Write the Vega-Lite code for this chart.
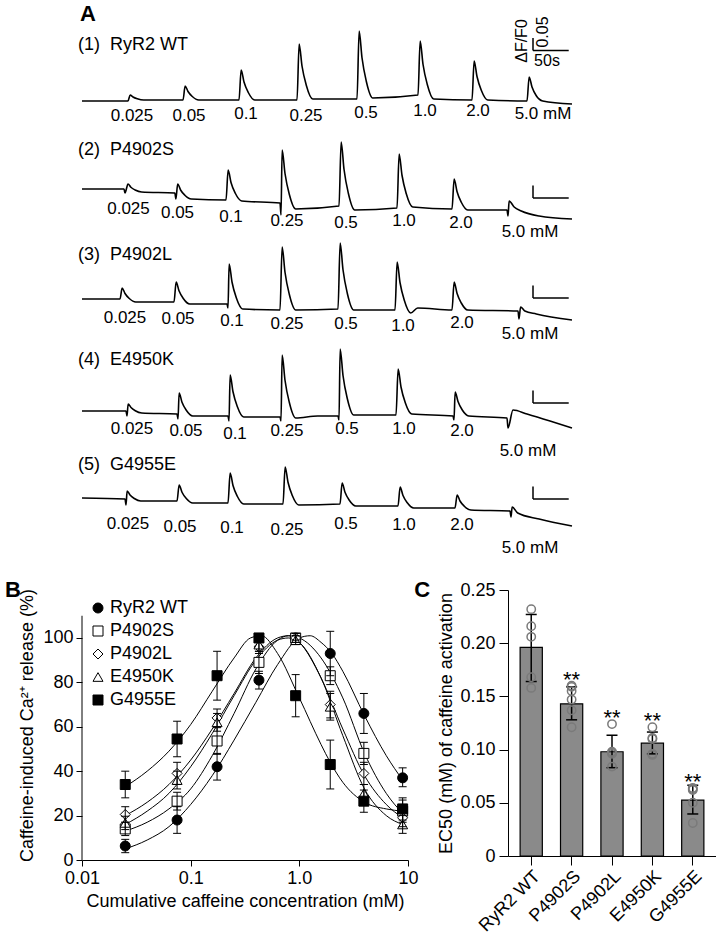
{
"$schema":"https://vega.github.io/schema/vega-lite/v6.json",
"padding":{"left":5,"top":2,"right":0,"bottom":0},
"background":"white",
"config":{"font":"Liberation Sans","view":{"stroke":null},
 "axis":{"domainColor":"black","tickColor":"black","labelColor":"black","titleColor":"black","labelFontSize":18,"titleFontSize":18,"titleFontWeight":"normal","grid":false,"labelFont":"Liberation Sans","titleFont":"Liberation Sans"},
 "text":{"font":"Liberation Sans","color":"black"}},
"datasets":{
"trace":[
{"r":1,"t":0,"v":-0.018},{"r":1,"t":64.4,"v":-0.018},{"r":1,"t":67.4,"v":0.006},{"r":1,"t":71.4,"v":-0.002},{"r":1,"t":77.4,"v":-0.009},{"r":1,"t":86.4,"v":-0.014},
{"r":1,"t":141.4,"v":-0.014},{"r":1,"t":144.4,"v":0.042},{"r":1,"t":148.4,"v":0.02},{"r":1,"t":154.4,"v":0},{"r":1,"t":163.4,"v":-0.014},
{"r":1,"t":219.8,"v":-0.014},{"r":1,"t":222.8,"v":0.106},{"r":1,"t":226.8,"v":0.058},{"r":1,"t":232.8,"v":0.016},{"r":1,"t":241.8,"v":-0.014},
{"r":1,"t":301,"v":-0.014},{"r":1,"t":304,"v":0.21},{"r":1,"t":308,"v":0.122},{"r":1,"t":314,"v":0.045},{"r":1,"t":323,"v":-0.01},
{"r":1,"t":385,"v":-0.01},{"r":1,"t":388,"v":0.262},{"r":1,"t":392,"v":0.155},{"r":1,"t":398,"v":0.061},{"r":1,"t":407,"v":-0.006},
{"r":1,"t":470.4,"v":0.006},{"r":1,"t":473.4,"v":0.222},{"r":1,"t":477.4,"v":0.129},{"r":1,"t":483.4,"v":0.048},{"r":1,"t":492.4,"v":-0.01},
{"r":1,"t":546,"v":-0.014},{"r":1,"t":549,"v":0.142},{"r":1,"t":553,"v":0.08},{"r":1,"t":559,"v":0.025},{"r":1,"t":568,"v":-0.014},
{"r":1,"t":623,"v":-0.018},{"r":1,"t":626,"v":0.078},{"r":1,"t":630,"v":0.038},{"r":1,"t":636,"v":0.003},{"r":1,"t":645,"v":-0.018},{"r":1,"t":686,"v":-0.03},
{"r":2,"t":0,"v":0.05},{"r":2,"t":58.8,"v":0.05},{"r":2,"t":60.2,"v":0.034},{"r":2,"t":64.4,"v":0.07},{"r":2,"t":68.4,"v":0.057},{"r":2,"t":74.4,"v":0.046},{"r":2,"t":83.4,"v":0.038},
{"r":2,"t":130,"v":0.034},{"r":2,"t":131.4,"v":0.01},{"r":2,"t":134,"v":0.07},{"r":2,"t":138,"v":0.046},{"r":2,"t":144,"v":0.025},{"r":2,"t":153,"v":0.01},
{"r":2,"t":201.6,"v":0.006},{"r":2,"t":204.6,"v":0.126},{"r":2,"t":208.6,"v":0.076},{"r":2,"t":214.6,"v":0.033},{"r":2,"t":223.6,"v":0.002},
{"r":2,"t":277.2,"v":-0.006},{"r":2,"t":278.6,"v":-0.054},{"r":2,"t":280.2,"v":0.206},{"r":2,"t":284.2,"v":0.112},{"r":2,"t":290.2,"v":0.029},{"r":2,"t":299.2,"v":-0.03},
{"r":2,"t":359.8,"v":-0.018},{"r":2,"t":362.8,"v":0.238},{"r":2,"t":366.8,"v":0.129},{"r":2,"t":372.8,"v":0.034},{"r":2,"t":381.8,"v":-0.034},
{"r":2,"t":441,"v":-0.026},{"r":2,"t":444,"v":0.19},{"r":2,"t":448,"v":0.105},{"r":2,"t":454,"v":0.031},{"r":2,"t":463,"v":-0.022},
{"r":2,"t":518,"v":-0.03},{"r":2,"t":521,"v":0.09},{"r":2,"t":525,"v":0.04},{"r":2,"t":531,"v":-0.003},{"r":2,"t":540,"v":-0.034},
{"r":2,"t":595,"v":-0.034},{"r":2,"t":596.4,"v":-0.058},{"r":2,"t":598,"v":0.002},{"r":2,"t":605,"v":-0.022},{"r":2,"t":615,"v":-0.038},{"r":2,"t":640,"v":-0.058},{"r":2,"t":686,"v":-0.07},
{"r":3,"t":0,"v":0.03},{"r":3,"t":53.2,"v":0.03},{"r":3,"t":56.2,"v":0.074},{"r":3,"t":60.2,"v":0.052},{"r":3,"t":66.2,"v":0.032},{"r":3,"t":75.2,"v":0.018},
{"r":3,"t":128.8,"v":0.018},{"r":3,"t":131.8,"v":0.098},{"r":3,"t":135.8,"v":0.063},{"r":3,"t":141.8,"v":0.032},{"r":3,"t":150.8,"v":0.01},
{"r":3,"t":203,"v":0.01},{"r":3,"t":204.4,"v":-0.006},{"r":3,"t":206,"v":0.17},{"r":3,"t":210,"v":0.098},{"r":3,"t":216,"v":0.035},{"r":3,"t":225,"v":-0.01},
{"r":3,"t":277.2,"v":-0.014},{"r":3,"t":280.2,"v":0.238},{"r":3,"t":284.2,"v":0.137},{"r":3,"t":290.2,"v":0.049},{"r":3,"t":299.2,"v":-0.014},
{"r":3,"t":358.4,"v":-0.01},{"r":3,"t":361.4,"v":0.254},{"r":3,"t":365.4,"v":0.147},{"r":3,"t":371.4,"v":0.053},{"r":3,"t":380.4,"v":-0.014},
{"r":3,"t":438.2,"v":-0.014},{"r":3,"t":441.2,"v":0.178},{"r":3,"t":445.2,"v":0.096},{"r":3,"t":451.2,"v":0.025},{"r":3,"t":460.2,"v":-0.026},{"r":3,"t":470,"v":-0.006},
{"r":3,"t":518,"v":-0.014},{"r":3,"t":521,"v":0.098},{"r":3,"t":525,"v":0.053},{"r":3,"t":531,"v":0.014},{"r":3,"t":540,"v":-0.014},
{"r":3,"t":610.4,"v":-0.018},{"r":3,"t":611.8,"v":-0.05},{"r":3,"t":614,"v":-0.002},{"r":3,"t":620,"v":-0.018},{"r":3,"t":636,"v":-0.03},{"r":3,"t":686,"v":-0.054},
{"r":4,"t":0,"v":0.002},{"r":4,"t":61.6,"v":0.002},{"r":4,"t":63,"v":-0.018},{"r":4,"t":64.6,"v":0.03},{"r":4,"t":68.6,"v":0.016},{"r":4,"t":74.6,"v":0.003},{"r":4,"t":83.6,"v":-0.006},
{"r":4,"t":133,"v":-0.01},{"r":4,"t":134.4,"v":-0.03},{"r":4,"t":136,"v":0.074},{"r":4,"t":140,"v":0.037},{"r":4,"t":146,"v":0.005},{"r":4,"t":155,"v":-0.018},
{"r":4,"t":204.4,"v":-0.018},{"r":4,"t":205.8,"v":-0.038},{"r":4,"t":207.4,"v":0.146},{"r":4,"t":211.4,"v":0.079},{"r":4,"t":217.4,"v":0.02},{"r":4,"t":226.4,"v":-0.022},
{"r":4,"t":277.2,"v":-0.022},{"r":4,"t":278.6,"v":-0.038},{"r":4,"t":280.2,"v":0.226},{"r":4,"t":284.2,"v":0.125},{"r":4,"t":290.2,"v":0.037},{"r":4,"t":299.2,"v":-0.026},{"r":4,"t":330,"v":-0.018},
{"r":4,"t":358.4,"v":-0.018},{"r":4,"t":359.8,"v":-0.034},{"r":4,"t":361.4,"v":0.25},{"r":4,"t":365.4,"v":0.144},{"r":4,"t":371.4,"v":0.052},{"r":4,"t":380.4,"v":-0.014},
{"r":4,"t":439.6,"v":-0.014},{"r":4,"t":442.6,"v":0.17},{"r":4,"t":446.6,"v":0.098},{"r":4,"t":452.6,"v":0.035},{"r":4,"t":461.6,"v":-0.01},
{"r":4,"t":519.4,"v":-0.018},{"r":4,"t":520.8,"v":-0.034},{"r":4,"t":522.4,"v":0.078},{"r":4,"t":526.4,"v":0.04},{"r":4,"t":532.4,"v":0.006},{"r":4,"t":541.4,"v":-0.018},
{"r":4,"t":595,"v":-0.026},{"r":4,"t":596.4,"v":-0.066},{"r":4,"t":603.4,"v":0.006},{"r":4,"t":623,"v":-0.01},{"r":4,"t":655.2,"v":-0.038},{"r":4,"t":686,"v":-0.066},
{"r":5,"t":0,"v":0.074},{"r":5,"t":60.2,"v":0.07},{"r":5,"t":61.6,"v":0.046},{"r":5,"t":63.2,"v":0.102},{"r":5,"t":67.2,"v":0.086},{"r":5,"t":73.2,"v":0.072},{"r":5,"t":82.2,"v":0.062},
{"r":5,"t":133,"v":0.062},{"r":5,"t":136,"v":0.126},{"r":5,"t":140,"v":0.097},{"r":5,"t":146,"v":0.072},{"r":5,"t":155,"v":0.054},
{"r":5,"t":204.4,"v":0.054},{"r":5,"t":207.4,"v":0.174},{"r":5,"t":211.4,"v":0.124},{"r":5,"t":217.4,"v":0.081},{"r":5,"t":226.4,"v":0.05},
{"r":5,"t":281.4,"v":0.05},{"r":5,"t":284.4,"v":0.198},{"r":5,"t":288.4,"v":0.137},{"r":5,"t":294.4,"v":0.084},{"r":5,"t":303.4,"v":0.046},
{"r":5,"t":361.2,"v":0.05},{"r":5,"t":364.2,"v":0.134},{"r":5,"t":368.2,"v":0.097},{"r":5,"t":374.2,"v":0.065},{"r":5,"t":383.2,"v":0.042},
{"r":5,"t":442.4,"v":0.042},{"r":5,"t":445.4,"v":0.118},{"r":5,"t":449.4,"v":0.084},{"r":5,"t":455.4,"v":0.055},{"r":5,"t":464.4,"v":0.034},
{"r":5,"t":522.2,"v":0.034},{"r":5,"t":525.2,"v":0.086},{"r":5,"t":529.2,"v":0.062},{"r":5,"t":535.2,"v":0.041},{"r":5,"t":544.2,"v":0.026},
{"r":5,"t":599.2,"v":0.022},{"r":5,"t":600.6,"v":-0.002},{"r":5,"t":602.2,"v":0.038},{"r":5,"t":610,"v":0.014},{"r":5,"t":640,"v":-0.01},{"r":5,"t":686,"v":-0.038}
],
"clabels":[
{"r":1,"t":70,"v":-0.078,"label":"0.025"},{"r":1,"t":149.8,"v":-0.078,"label":"0.05"},{"r":1,"t":229.6,"v":-0.07,"label":"0.1"},{"r":1,"t":313.6,"v":-0.078,"label":"0.25"},{"r":1,"t":397.6,"v":-0.066,"label":"0.5"},{"r":1,"t":480.2,"v":-0.058,"label":"1.0"},{"r":1,"t":554.4,"v":-0.058,"label":"2.0"},{"r":1,"t":645.4,"v":-0.07,"label":"5.0 mM"},
{"r":2,"t":65.1,"v":-0.03,"label":"0.025"},{"r":2,"t":133.7,"v":-0.046,"label":"0.05"},{"r":2,"t":208.6,"v":-0.062,"label":"0.1"},{"r":2,"t":287,"v":-0.078,"label":"0.25"},{"r":2,"t":369.6,"v":-0.086,"label":"0.5"},{"r":2,"t":450.8,"v":-0.078,"label":"1.0"},{"r":2,"t":530.6,"v":-0.086,"label":"2.0"},{"r":2,"t":627.2,"v":-0.122,"label":"5.0 mM"},
{"r":3,"t":60.2,"v":-0.046,"label":"0.025"},{"r":3,"t":134.4,"v":-0.05,"label":"0.05"},{"r":3,"t":210,"v":-0.058,"label":"0.1"},{"r":3,"t":287,"v":-0.07,"label":"0.25"},{"r":3,"t":369.6,"v":-0.07,"label":"0.5"},{"r":3,"t":449.4,"v":-0.078,"label":"1.0"},{"r":3,"t":532,"v":-0.066,"label":"2.0"},{"r":3,"t":627.2,"v":-0.11,"label":"5.0 mM"},
{"r":4,"t":70,"v":-0.07,"label":"0.025"},{"r":4,"t":145.6,"v":-0.078,"label":"0.05"},{"r":4,"t":214.2,"v":-0.09,"label":"0.1"},{"r":4,"t":287,"v":-0.078,"label":"0.25"},{"r":4,"t":371,"v":-0.07,"label":"0.5"},{"r":4,"t":450.8,"v":-0.07,"label":"1.0"},{"r":4,"t":532,"v":-0.078,"label":"2.0"},{"r":4,"t":624.4,"v":-0.158,"label":"5.0 mM"},
{"r":5,"t":64.4,"v":-0.03,"label":"0.025"},{"r":5,"t":137.2,"v":-0.042,"label":"0.05"},{"r":5,"t":210,"v":-0.046,"label":"0.1"},{"r":5,"t":287,"v":-0.054,"label":"0.25"},{"r":5,"t":369.6,"v":-0.03,"label":"0.5"},{"r":5,"t":450.8,"v":-0.034,"label":"1.0"},{"r":5,"t":532,"v":-0.034,"label":"2.0"},{"r":5,"t":627.2,"v":-0.126,"label":"5.0 mM"}
],
"sbar":[
{"r":1,"t":631.4,"t2":681.4,"v":0.184,"v2":0.234},
{"r":2,"t":631.4,"t2":681.4,"v":0.014,"v2":0.064},
{"r":3,"t":631.4,"t2":681.4,"v":0.034,"v2":0.084},
{"r":4,"t":631.4,"t2":681.4,"v":0.034,"v2":0.084},
{"r":5,"t":631.4,"t2":681.4,"v":0.07,"v2":0.12}
],
"names":[
{"r":1,"name":"(1)\u00a0\u00a0RyR2 WT"},{"r":2,"name":"(2)\u00a0\u00a0P4902S"},{"r":3,"name":"(3)\u00a0\u00a0P4902L"},{"r":4,"name":"(4)\u00a0\u00a0E4950K"},{"r":5,"name":"(5)\u00a0\u00a0G4955E"}
],
"curves":[
{"s":"RyR2 WT","c":0.025,"y":5},{"s":"RyR2 WT","c":0.0398,"y":9},{"s":"RyR2 WT","c":0.0631,"y":15},{"s":"RyR2 WT","c":0.1,"y":25},{"s":"RyR2 WT","c":0.158,"y":38},{"s":"RyR2 WT","c":0.251,"y":54},{"s":"RyR2 WT","c":0.398,"y":71},{"s":"RyR2 WT","c":0.631,"y":88},{"s":"RyR2 WT","c":1,"y":100},{"s":"RyR2 WT","c":1.259,"y":101},{"s":"RyR2 WT","c":1.585,"y":98},{"s":"RyR2 WT","c":1.995,"y":93},{"s":"RyR2 WT","c":2.512,"y":85},{"s":"RyR2 WT","c":3.981,"y":65},{"s":"RyR2 WT","c":6.31,"y":47},{"s":"RyR2 WT","c":8.925,"y":36},
{"s":"P4902S","c":0.025,"y":13},{"s":"P4902S","c":0.0398,"y":17},{"s":"P4902S","c":0.0631,"y":23},{"s":"P4902S","c":0.1,"y":32},{"s":"P4902S","c":0.158,"y":47},{"s":"P4902S","c":0.251,"y":66},{"s":"P4902S","c":0.398,"y":86},{"s":"P4902S","c":0.631,"y":99},{"s":"P4902S","c":0.794,"y":101},{"s":"P4902S","c":1,"y":100},{"s":"P4902S","c":1.585,"y":91},{"s":"P4902S","c":2.512,"y":73},{"s":"P4902S","c":3.981,"y":48},{"s":"P4902S","c":6.31,"y":30},{"s":"P4902S","c":8.925,"y":21},
{"s":"P4902L","c":0.025,"y":20},{"s":"P4902L","c":0.0398,"y":26},{"s":"P4902L","c":0.0631,"y":34},{"s":"P4902L","c":0.1,"y":45},{"s":"P4902L","c":0.158,"y":59},{"s":"P4902L","c":0.251,"y":75},{"s":"P4902L","c":0.398,"y":91},{"s":"P4902L","c":0.631,"y":100},{"s":"P4902L","c":0.794,"y":101},{"s":"P4902L","c":1,"y":98},{"s":"P4902L","c":1.585,"y":82},{"s":"P4902L","c":2.512,"y":59},{"s":"P4902L","c":3.981,"y":38},{"s":"P4902L","c":6.31,"y":25},{"s":"P4902L","c":8.925,"y":19},
{"s":"E4950K","c":0.025,"y":16},{"s":"E4950K","c":0.0398,"y":22},{"s":"E4950K","c":0.0631,"y":30},{"s":"E4950K","c":0.1,"y":42},{"s":"E4950K","c":0.158,"y":57},{"s":"E4950K","c":0.251,"y":74},{"s":"E4950K","c":0.398,"y":90},{"s":"E4950K","c":0.631,"y":99},{"s":"E4950K","c":0.794,"y":100},{"s":"E4950K","c":1,"y":98},{"s":"E4950K","c":1.585,"y":82},{"s":"E4950K","c":2.512,"y":56},{"s":"E4950K","c":3.981,"y":32},{"s":"E4950K","c":6.31,"y":20},{"s":"E4950K","c":8.925,"y":16},
{"s":"G4955E","c":0.025,"y":33},{"s":"G4955E","c":0.0398,"y":40},{"s":"G4955E","c":0.0631,"y":49},{"s":"G4955E","c":0.1,"y":61},{"s":"G4955E","c":0.158,"y":76},{"s":"G4955E","c":0.251,"y":91},{"s":"G4955E","c":0.355,"y":100},{"s":"G4955E","c":0.447,"y":101},{"s":"G4955E","c":0.631,"y":93},{"s":"G4955E","c":1,"y":73},{"s":"G4955E","c":1.585,"y":52},{"s":"G4955E","c":1.925,"y":44},{"s":"G4955E","c":2.512,"y":35},{"s":"G4955E","c":3.981,"y":26},{"s":"G4955E","c":6.31,"y":23},{"s":"G4955E","c":8.925,"y":22}
],
"bpts":[
{"s":"RyR2 WT","c":0.025,"m":6.3,"lo":3.3,"hi":9.3},{"s":"RyR2 WT","c":0.075,"m":18,"lo":12,"hi":24},{"s":"RyR2 WT","c":0.175,"m":42,"lo":36,"hi":48},{"s":"RyR2 WT","c":0.425,"m":81,"lo":77,"hi":85},{"s":"RyR2 WT","c":0.925,"m":100,"lo":98,"hi":102},{"s":"RyR2 WT","c":1.925,"m":93,"lo":83,"hi":103},{"s":"RyR2 WT","c":3.925,"m":66,"lo":57,"hi":75},{"s":"RyR2 WT","c":8.925,"m":37,"lo":33,"hi":41.5},
{"s":"P4902S","c":0.025,"m":14,"lo":11,"hi":17},{"s":"P4902S","c":0.075,"m":26.5,"lo":22.5,"hi":30.5},{"s":"P4902S","c":0.175,"m":53.6,"lo":47.6,"hi":59.6},{"s":"P4902S","c":0.425,"m":89,"lo":84,"hi":94},{"s":"P4902S","c":0.925,"m":100,"lo":98,"hi":102},{"s":"P4902S","c":1.925,"m":83,"lo":79,"hi":87},{"s":"P4902S","c":3.925,"m":48,"lo":43,"hi":53},{"s":"P4902S","c":8.925,"m":22,"lo":17,"hi":27},
{"s":"P4902L","c":0.025,"m":20.5,"lo":17,"hi":24},{"s":"P4902L","c":0.075,"m":39,"lo":34,"hi":44},{"s":"P4902L","c":0.175,"m":64,"lo":60,"hi":68},{"s":"P4902L","c":0.425,"m":96,"lo":93,"hi":99},{"s":"P4902L","c":0.925,"m":100,"lo":99,"hi":101},{"s":"P4902L","c":1.925,"m":70,"lo":64,"hi":76},{"s":"P4902L","c":3.925,"m":39,"lo":34,"hi":44},{"s":"P4902L","c":8.925,"m":19,"lo":15,"hi":23},
{"s":"E4950K","c":0.025,"m":16.7,"lo":13.7,"hi":19.7},{"s":"E4950K","c":0.075,"m":36,"lo":32,"hi":40},{"s":"E4950K","c":0.175,"m":62,"lo":58,"hi":66},{"s":"E4950K","c":0.425,"m":97,"lo":94,"hi":100},{"s":"E4950K","c":0.925,"m":99,"lo":97,"hi":101},{"s":"E4950K","c":1.925,"m":69,"lo":63,"hi":75},{"s":"E4950K","c":3.925,"m":30,"lo":26,"hi":34},{"s":"E4950K","c":8.925,"m":16,"lo":12,"hi":20},
{"s":"G4955E","c":0.025,"m":34,"lo":28,"hi":40},{"s":"G4955E","c":0.075,"m":54.5,"lo":46.5,"hi":62.5},{"s":"G4955E","c":0.175,"m":83,"lo":72,"hi":94},{"s":"G4955E","c":0.425,"m":100,"lo":99,"hi":101},{"s":"G4955E","c":0.925,"m":74,"lo":64.5,"hi":83.5},{"s":"G4955E","c":1.925,"m":43,"lo":32,"hi":54},{"s":"G4955E","c":3.925,"m":26.5,"lo":21.5,"hi":31.5},{"s":"G4955E","c":8.925,"m":23,"lo":18,"hi":28}
],
"ec50":[
{"g":"RyR2 WT","m":0.196,"lo":0.164,"hi":0.227},{"g":"P4902S","m":0.143,"lo":0.128,"hi":0.159},{"g":"P4902L","m":0.098,"lo":0.083,"hi":0.1135},{"g":"E4950K","m":0.106,"lo":0.096,"hi":0.1165},{"g":"G4955E","m":0.0525,"lo":0.0395,"hi":0.0665}
],
"ec50pts":[
{"g":"RyR2 WT","v":0.232},{"g":"RyR2 WT","v":0.216},{"g":"RyR2 WT","v":0.206},{"g":"RyR2 WT","v":0.168},{"g":"RyR2 WT","v":0.158},
{"g":"P4902S","v":0.16},{"g":"P4902S","v":0.159},{"g":"P4902S","v":0.155},{"g":"P4902S","v":0.147},{"g":"P4902S","v":0.137},{"g":"P4902S","v":0.121},
{"g":"P4902L","v":0.124},{"g":"P4902L","v":0.098},{"g":"P4902L","v":0.097},{"g":"P4902L","v":0.096},{"g":"P4902L","v":0.084},
{"g":"E4950K","v":0.121},{"g":"E4950K","v":0.111},{"g":"E4950K","v":0.11},{"g":"E4950K","v":0.096},{"g":"E4950K","v":0.095},
{"g":"G4955E","v":0.064},{"g":"G4955E","v":0.063},{"g":"G4955E","v":0.062},{"g":"G4955E","v":0.05},{"g":"G4955E","v":0.031}
]
},
"bounds":"flush",
"spacing":5,
"resolve":{"legend":{"shape":"independent","fill":"independent","stroke":"independent"}},
"vconcat":[
 {"width":490,"height":100,"layer":[
  {"data":{"name":"trace"},"transform":[{"filter":"datum.r==1"}],"mark":{"type":"line","interpolate":"monotone","color":"black","strokeWidth":1.6},"encoding":{"x":{"field":"t","type":"quantitative","scale":{"domain":[0,686],"nice":false,"zero":false},"axis":null},"y":{"field":"v","type":"quantitative","scale":{"domain":[-0.05,0.35],"nice":false,"zero":false},"axis":null}}},
  {"data":{"name":"clabels"},"transform":[{"filter":"datum.r==1"}],"mark":{"type":"text","fontSize":17,"baseline":"middle"},"encoding":{"x":{"field":"t","type":"quantitative"},"y":{"field":"v","type":"quantitative"},"text":{"field":"label"}}},
  {"data":{"name":"sbar"},"transform":[{"filter":"datum.r==1"}],"mark":{"type":"rule","strokeWidth":1.5,"color":"black"},"encoding":{"x":{"field":"t","type":"quantitative"},"y":{"field":"v","type":"quantitative"},"y2":{"field":"v2"}}},
  {"data":{"name":"sbar"},"transform":[{"filter":"datum.r==1"}],"mark":{"type":"rule","strokeWidth":1.5,"color":"black"},"encoding":{"x":{"field":"t","type":"quantitative"},"x2":{"field":"t2"},"y":{"field":"v","type":"quantitative"}}},
  {"data":{"name":"names"},"transform":[{"filter":"datum.r==1"}],"mark":{"type":"text","fontSize":18,"align":"left","baseline":"middle"},"encoding":{"x":{"datum":-5.6,"type":"quantitative"},"y":{"datum":0.205,"type":"quantitative"},"text":{"field":"name"}}},
  {"data":{"values":[{"txt":"ΔF/F0","t":616,"v":0.222},{"txt":"0.05","t":645.4,"v":0.258}]},"mark":{"type":"text","fontSize":16,"angle":270,"baseline":"middle","align":"center"},"encoding":{"x":{"field":"t","type":"quantitative"},"y":{"field":"v","type":"quantitative"},"text":{"field":"txt"}}},
  {"data":{"values":[{"txt":"50s","t":651,"v":0.142}]},"mark":{"type":"text","fontSize":16,"baseline":"middle","align":"center"},"encoding":{"x":{"field":"t","type":"quantitative"},"y":{"field":"v","type":"quantitative"},"text":{"field":"txt"}}},
  {"data":{"values":[{"txt":"A"}]},"mark":{"type":"text","fontSize":22,"fontWeight":"bold","align":"left","baseline":"middle"},"encoding":{"x":{"datum":-2.8,"type":"quantitative"},"y":{"datum":0.33,"type":"quantitative"},"text":{"field":"txt"}}}
 ]},
 {"width":490,"height":100,"layer":[
  {"data":{"name":"trace"},"transform":[{"filter":"datum.r==2"}],"mark":{"type":"line","interpolate":"monotone","color":"black","strokeWidth":1.6},"encoding":{"x":{"field":"t","type":"quantitative","scale":{"domain":[0,686],"nice":false,"zero":false},"axis":null},"y":{"field":"v","type":"quantitative","scale":{"domain":[-0.05,0.35],"nice":false,"zero":false},"axis":null}}},
  {"data":{"name":"clabels"},"transform":[{"filter":"datum.r==2"}],"mark":{"type":"text","fontSize":17,"baseline":"middle"},"encoding":{"x":{"field":"t","type":"quantitative"},"y":{"field":"v","type":"quantitative"},"text":{"field":"label"}}},
  {"data":{"name":"sbar"},"transform":[{"filter":"datum.r==2"}],"mark":{"type":"rule","strokeWidth":1.5,"color":"black"},"encoding":{"x":{"field":"t","type":"quantitative"},"y":{"field":"v","type":"quantitative"},"y2":{"field":"v2"}}},
  {"data":{"name":"sbar"},"transform":[{"filter":"datum.r==2"}],"mark":{"type":"rule","strokeWidth":1.5,"color":"black"},"encoding":{"x":{"field":"t","type":"quantitative"},"x2":{"field":"t2"},"y":{"field":"v","type":"quantitative"}}},
  {"data":{"name":"names"},"transform":[{"filter":"datum.r==2"}],"mark":{"type":"text","fontSize":18,"align":"left","baseline":"middle"},"encoding":{"x":{"datum":-5.6,"type":"quantitative"},"y":{"datum":0.205,"type":"quantitative"},"text":{"field":"name"}}}
 ]},
 {"width":490,"height":100,"layer":[
  {"data":{"name":"trace"},"transform":[{"filter":"datum.r==3"}],"mark":{"type":"line","interpolate":"monotone","color":"black","strokeWidth":1.6},"encoding":{"x":{"field":"t","type":"quantitative","scale":{"domain":[0,686],"nice":false,"zero":false},"axis":null},"y":{"field":"v","type":"quantitative","scale":{"domain":[-0.05,0.35],"nice":false,"zero":false},"axis":null}}},
  {"data":{"name":"clabels"},"transform":[{"filter":"datum.r==3"}],"mark":{"type":"text","fontSize":17,"baseline":"middle"},"encoding":{"x":{"field":"t","type":"quantitative"},"y":{"field":"v","type":"quantitative"},"text":{"field":"label"}}},
  {"data":{"name":"sbar"},"transform":[{"filter":"datum.r==3"}],"mark":{"type":"rule","strokeWidth":1.5,"color":"black"},"encoding":{"x":{"field":"t","type":"quantitative"},"y":{"field":"v","type":"quantitative"},"y2":{"field":"v2"}}},
  {"data":{"name":"sbar"},"transform":[{"filter":"datum.r==3"}],"mark":{"type":"rule","strokeWidth":1.5,"color":"black"},"encoding":{"x":{"field":"t","type":"quantitative"},"x2":{"field":"t2"},"y":{"field":"v","type":"quantitative"}}},
  {"data":{"name":"names"},"transform":[{"filter":"datum.r==3"}],"mark":{"type":"text","fontSize":18,"align":"left","baseline":"middle"},"encoding":{"x":{"datum":-5.6,"type":"quantitative"},"y":{"datum":0.205,"type":"quantitative"},"text":{"field":"name"}}}
 ]},
 {"width":490,"height":100,"layer":[
  {"data":{"name":"trace"},"transform":[{"filter":"datum.r==4"}],"mark":{"type":"line","interpolate":"monotone","color":"black","strokeWidth":1.6},"encoding":{"x":{"field":"t","type":"quantitative","scale":{"domain":[0,686],"nice":false,"zero":false},"axis":null},"y":{"field":"v","type":"quantitative","scale":{"domain":[-0.05,0.35],"nice":false,"zero":false},"axis":null}}},
  {"data":{"name":"clabels"},"transform":[{"filter":"datum.r==4"}],"mark":{"type":"text","fontSize":17,"baseline":"middle"},"encoding":{"x":{"field":"t","type":"quantitative"},"y":{"field":"v","type":"quantitative"},"text":{"field":"label"}}},
  {"data":{"name":"sbar"},"transform":[{"filter":"datum.r==4"}],"mark":{"type":"rule","strokeWidth":1.5,"color":"black"},"encoding":{"x":{"field":"t","type":"quantitative"},"y":{"field":"v","type":"quantitative"},"y2":{"field":"v2"}}},
  {"data":{"name":"sbar"},"transform":[{"filter":"datum.r==4"}],"mark":{"type":"rule","strokeWidth":1.5,"color":"black"},"encoding":{"x":{"field":"t","type":"quantitative"},"x2":{"field":"t2"},"y":{"field":"v","type":"quantitative"}}},
  {"data":{"name":"names"},"transform":[{"filter":"datum.r==4"}],"mark":{"type":"text","fontSize":18,"align":"left","baseline":"middle"},"encoding":{"x":{"datum":-5.6,"type":"quantitative"},"y":{"datum":0.205,"type":"quantitative"},"text":{"field":"name"}}}
 ]},
 {"width":490,"height":156,"layer":[
  {"data":{"name":"trace"},"transform":[{"filter":"datum.r==5"}],"mark":{"type":"line","interpolate":"monotone","color":"black","strokeWidth":1.6},"encoding":{"x":{"field":"t","type":"quantitative","scale":{"domain":[0,686],"nice":false,"zero":false},"axis":null},"y":{"field":"v","type":"quantitative","scale":{"domain":[-0.274,0.35],"nice":false,"zero":false},"axis":null}}},
  {"data":{"name":"clabels"},"transform":[{"filter":"datum.r==5"}],"mark":{"type":"text","fontSize":17,"baseline":"middle"},"encoding":{"x":{"field":"t","type":"quantitative"},"y":{"field":"v","type":"quantitative"},"text":{"field":"label"}}},
  {"data":{"name":"sbar"},"transform":[{"filter":"datum.r==5"}],"mark":{"type":"rule","strokeWidth":1.5,"color":"black"},"encoding":{"x":{"field":"t","type":"quantitative"},"y":{"field":"v","type":"quantitative"},"y2":{"field":"v2"}}},
  {"data":{"name":"sbar"},"transform":[{"filter":"datum.r==5"}],"mark":{"type":"rule","strokeWidth":1.5,"color":"black"},"encoding":{"x":{"field":"t","type":"quantitative"},"x2":{"field":"t2"},"y":{"field":"v","type":"quantitative"}}},
  {"data":{"name":"names"},"transform":[{"filter":"datum.r==5"}],"mark":{"type":"text","fontSize":18,"align":"left","baseline":"middle"},"encoding":{"x":{"datum":-5.6,"type":"quantitative"},"y":{"datum":0.205,"type":"quantitative"},"text":{"field":"name"}}}
 ]},
 {"bounds":"flush","spacing":100,
  "resolve":{"legend":{"shape":"independent","fill":"independent","stroke":"independent"}},
  "hconcat":[
 {"width":326,"height":270,"layer":[
  {"data":{"name":"curves"},"mark":{"type":"line","interpolate":"monotone","color":"black","strokeWidth":1},
   "encoding":{"x":{"field":"c","type":"quantitative","scale":{"type":"log","domain":[0.01,10],"nice":false},
     "axis":{"values":[0.01,0.1,1,10],"labelExpr":"datum.value>=9?'10':datum.value>=0.9?'1.0':datum.value>=0.09?'0.1':'0.01'","tickSize":6,"labelPadding":3,"title":"Cumulative caffeine concentration (mM)","titlePadding":5,"labelFlush":false}},
    "y":{"field":"y","type":"quantitative","scale":{"domain":[0,121.6],"nice":false,"zero":false},
     "axis":{"values":[0,20,40,60,80,100],"domain":false,"tickSize":6,"labelPadding":3,"title":"Caffeine-induced Ca²⁺ release (%)","titlePadding":6}},
    "detail":{"field":"s"}}},
  {"data":{"name":"bpts"},"mark":{"type":"point","strokeWidth":1,"opacity":1,"size":100},
   "encoding":{"x":{"field":"c","type":"quantitative"},"y":{"field":"m","type":"quantitative"},
    "shape":{"field":"s","type":"nominal","scale":{"domain":["RyR2 WT","P4902S","P4902L","E4950K","G4955E"],"range":["circle","square","diamond","triangle-up","square"]},
      "legend":{"orient":"none","legendX":7,"legendY":9,"title":null,"labelFontSize":18,"symbolSize":100,"rowPadding":5,"labelOffset":3,"symbolStrokeWidth":1,"padding":0,"labelColor":"black","labelFont":"Liberation Sans"}},
    "fill":{"field":"s","type":"nominal","scale":{"domain":["RyR2 WT","P4902S","P4902L","E4950K","G4955E"],"range":["black","white","white","white","black"]},
      "legend":{"orient":"none","legendX":7,"legendY":9,"title":null,"labelFontSize":18,"symbolSize":100,"rowPadding":5,"labelOffset":3,"symbolStrokeWidth":1,"padding":0,"labelColor":"black","labelFont":"Liberation Sans"}},
    "stroke":{"field":"s","type":"nominal","scale":{"domain":["RyR2 WT","P4902S","P4902L","E4950K","G4955E"],"range":["black","black","black","black","black"]},
      "legend":{"orient":"none","legendX":7,"legendY":9,"title":null,"labelFontSize":18,"symbolSize":100,"rowPadding":5,"labelOffset":3,"symbolStrokeWidth":1,"padding":0,"labelColor":"black","labelFont":"Liberation Sans"}}}},
  {"data":{"name":"bpts"},"mark":{"type":"rule","color":"black","strokeWidth":1},"encoding":{"x":{"field":"c","type":"quantitative"},"y":{"field":"lo","type":"quantitative"},"y2":{"field":"hi"}}},
  {"data":{"name":"bpts"},"transform":[{"fold":["lo","hi"],"as":["k","ev"]}],"mark":{"type":"point","shape":"M-1,0L1,0","size":64,"stroke":"black","strokeWidth":1,"filled":false,"opacity":1},"encoding":{"x":{"field":"c","type":"quantitative"},"y":{"field":"ev","type":"quantitative"}}},
  {"data":{"values":[{"a":1}]},"mark":{"type":"rule","color":"black","strokeWidth":1},"encoding":{"x":{"datum":0.01,"type":"quantitative"},"y":{"datum":0,"type":"quantitative"},"y2":{"datum":110}}},
  {"data":{"values":[{"txt":"B"}]},"mark":{"type":"text","fontSize":22,"fontWeight":"bold","align":"left","baseline":"middle","dx":-77},"encoding":{"x":{"datum":0.01,"type":"quantitative"},"y":{"datum":121.6,"type":"quantitative"},"text":{"field":"txt"}}}
 ]},
 {"width":208,"height":266,"layer":[
  {"data":{"name":"ec50"},"mark":{"type":"bar","fill":"#8a8a8a","stroke":"black","strokeWidth":1.2},
   "encoding":{"x":{"field":"g","type":"nominal","sort":null,"scale":{"paddingInner":0.45,"paddingOuter":0.3},"axis":{"title":null,"labelAngle":-45,"tickSize":9,"labelPadding":2}},
    "y":{"field":"m","type":"quantitative","scale":{"domain":[0,0.25],"nice":false},"axis":{"values":[0,0.05,0.1,0.15,0.2,0.25],"labelExpr":"datum.value==0?'0':format(datum.value,'.2f')","tickSize":9,"labelPadding":4,"title":"EC50 (mM) of caffeine activation","titlePadding":4}}}},
  {"data":{"name":"ec50"},"mark":{"type":"rule","color":"black","strokeWidth":1.5},"encoding":{"x":{"field":"g","type":"nominal","sort":null},"y":{"field":"lo","type":"quantitative"},"y2":{"field":"hi"}}},
  {"data":{"name":"ec50"},"transform":[{"fold":["lo","hi"],"as":["k","ev"]}],"mark":{"type":"point","shape":"M-1,0L1,0","size":121,"stroke":"black","strokeWidth":1.5,"filled":false,"opacity":1},"encoding":{"x":{"field":"g","type":"nominal","sort":null},"y":{"field":"ev","type":"quantitative"}}},
  {"data":{"name":"ec50pts"},"mark":{"type":"point","shape":"circle","size":70,"stroke":"#7a7a7a","strokeWidth":1.5,"filled":false,"opacity":1},"encoding":{"x":{"field":"g","type":"nominal","sort":null},"y":{"field":"v","type":"quantitative"}}},
  {"data":{"name":"ec50pts"},"transform":[{"filter":"datum.g!='RyR2 WT'"},{"aggregate":[{"op":"max","field":"v","as":"top"}],"groupby":["g"]}],"mark":{"type":"text","text":"**","fontSize":22,"baseline":"alphabetic","dy":1},"encoding":{"x":{"field":"g","type":"nominal","sort":null},"y":{"field":"top","type":"quantitative"}}},
  {"data":{"values":[{"txt":"C"}]},"mark":{"type":"text","fontSize":22,"fontWeight":"bold","align":"left","baseline":"middle","dx":-117},"encoding":{"x":{"datum":"RyR2 WT","type":"nominal"},"y":{"datum":0.25,"type":"quantitative"},"text":{"field":"txt"}}}
 ]}
]}
]
}
